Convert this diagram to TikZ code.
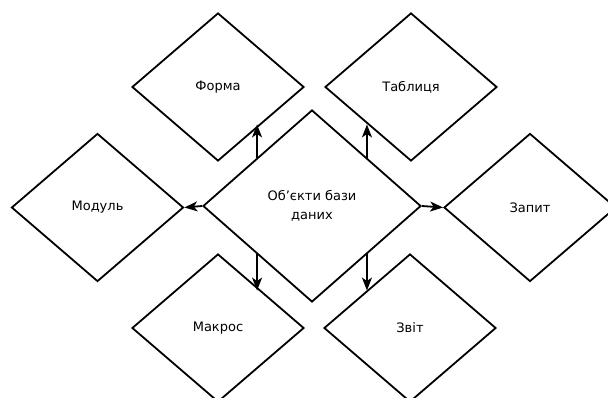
\documentclass[tikz,border=0pt]{standalone}
\usepackage{fontspec}
\setmainfont{DejaVu Sans}
\usetikzlibrary{shapes.geometric,arrows.meta}
\begin{document}
\begin{tikzpicture}[x=1pt,y=-1pt,
  box/.style={diamond, draw=black, line width=1.8pt, fill=white, inner sep=0pt,
    minimum width=172pt, minimum height=148pt, align=center,
    font=\fontsize{13}{19}\selectfont},
  hub/.style={box, minimum width=218pt, minimum height=192pt},
  link/.style={line width=1.8pt, -{Stealth[length=13pt,width=10pt,inset=3.5pt]}}]
\clip (0,0) rectangle (608,398);
% central object and the six kinds of database objects around it
\node[hub] (db)     at (312,206)   {Об’єкти бази\\даних};
\node[box] (forma)  at (218,87)    {Форма};
\node[box] (tabl)   at (411,87)    {Таблиця};
\node[box] (modul)  at (97.5,207.5) {Модуль};
\node[box] (zapyt)  at (530,207.5) {Запит};
\node[box] (makros) at (218,328)   {Макрос};
\node[box] (zvit)   at (410,328)   {Звіт};
% connectors from the centre outwards
\draw[link] (db.north west) -- (db.north west |- forma.south east);
\draw[link] (db.north east) -- (db.north east |- tabl.south west);
\draw[link] (db.south west) -- (db.south west |- makros.north east);
\draw[link] (db.south east) -- (db.south east |- zvit.north west);
\draw[link] (db.west) -- (modul.east);
\draw[link] (db.east) -- (zapyt.west);
\end{tikzpicture}
\end{document}
